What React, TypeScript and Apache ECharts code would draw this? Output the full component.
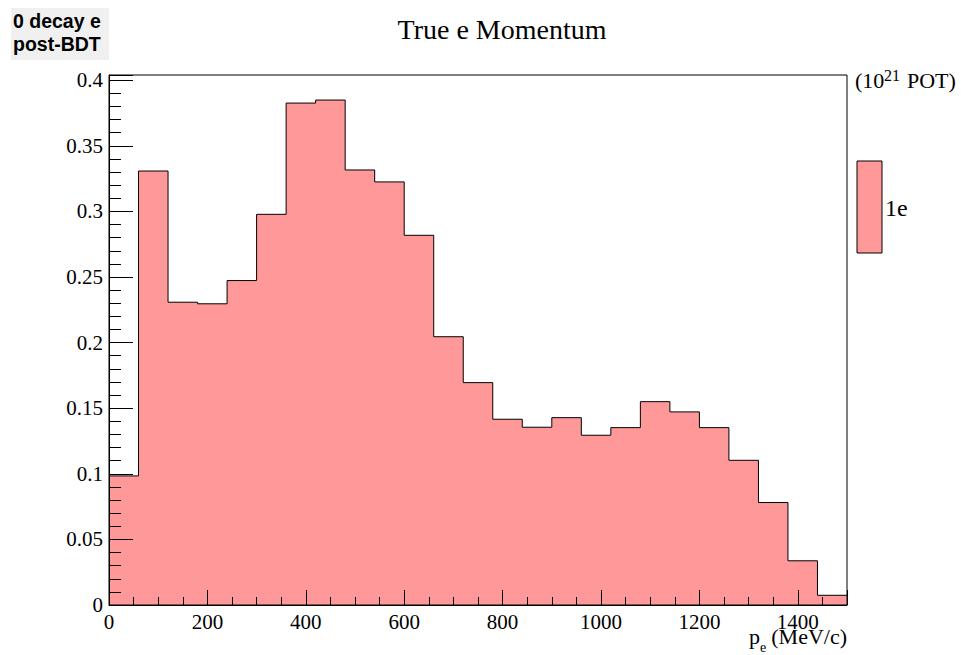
import React, { useEffect, useRef } from "react";
import * as echarts from "echarts";

// Histogram of true electron momentum, 60 MeV/c bins from 0 to 1500
const binLowEdges = [
  0, 60, 120, 180, 240, 300, 360, 420, 480, 540, 600, 660, 720, 780, 840, 900,
  960, 1020, 1080, 1140, 1200, 1260, 1320, 1380, 1440,
];
const binContents = [
  0.0984, 0.3308, 0.2308, 0.2296, 0.2473, 0.2978, 0.3826, 0.3849, 0.3316,
  0.3225, 0.2818, 0.2045, 0.1695, 0.1416, 0.1355, 0.1428, 0.1294, 0.1352,
  0.155, 0.1472, 0.1352, 0.1103, 0.0781, 0.0337, 0.0074,
];
const X_MIN = 0;
const X_MAX = 1500;
const Y_MIN = 0;
const Y_MAX = 0.404;
const xMajorStep = 200;
const xMinorStep = 50;
const yMajorStep = 0.05;
const yMinorStep = 0.01;
const seriesName = "1e";

const FILL = "#ff9999";
const SERIF = "Liberation Serif";
const SANS = "Liberation Sans";

const isMultiple = (v: number, step: number) =>
  Math.abs(v / step - Math.round(v / step)) < 1e-6;

const label = (
  text: string,
  x: number,
  y: number,
  fontSize: number,
  opts: Record<string, unknown> = {}
) => ({
  type: "text",
  x,
  y,
  style: {
    text,
    fontFamily: SERIF,
    fontSize,
    fill: "#000",
    align: "left",
    verticalAlign: "middle",
    ...opts,
  },
});

export default function App() {
  const ref = useRef<HTMLDivElement>(null);

  useEffect(() => {
    if (!ref.current) return;
    const chart = echarts.init(ref.current, null, { renderer: "svg" });

    // step outline: each bin's low edge, plus the closing upper edge
    const stepData: [number, number][] = binLowEdges.map((x, i) => [
      x,
      binContents[i],
    ]);
    stepData.push([X_MAX, binContents[binContents.length - 1]]);

    const tickLine = { color: "#000", width: 1 };
    const tickLabelFont = {
      color: "#000",
      fontFamily: SERIF,
      fontSize: 21,
      fontWeight: "normal",
    };

    chart.setOption({
      animation: false,
      backgroundColor: "#fff",
      textStyle: { fontFamily: SERIF },
      grid: {
        left: 109,
        right: 114,
        top: 75,
        bottom: 50,
        show: true,
        borderColor: "#000",
        borderWidth: 1,
        backgroundColor: "transparent",
        z: 10,
      },
      xAxis: [
        {
          type: "value",
          position: "bottom",
          min: X_MIN,
          max: X_MAX,
          interval: xMajorStep,
          z: 10,
          axisLine: { show: true, lineStyle: { color: "#000", width: 1 } },
          axisTick: { show: true, inside: true, length: 15, lineStyle: tickLine },
          splitLine: { show: false },
          axisLabel: {
            ...tickLabelFont,
            margin: 9.5,
            lineHeight: 14,
            formatter: (v: number) => (isMultiple(v, xMajorStep) ? String(v) : ""),
          },
        },
        {
          type: "value",
          position: "bottom",
          min: X_MIN,
          max: X_MAX,
          interval: xMinorStep,
          z: 10,
          axisLine: { show: false },
          axisTick: { show: true, inside: true, length: 8, lineStyle: tickLine },
          splitLine: { show: false },
          axisLabel: { show: false },
        },
      ],
      yAxis: [
        {
          type: "value",
          position: "left",
          min: Y_MIN,
          max: Y_MAX,
          interval: yMajorStep,
          z: 10,
          axisLine: { show: true, lineStyle: { color: "#000", width: 1 } },
          axisTick: { show: true, inside: true, length: 24, lineStyle: tickLine },
          splitLine: { show: false },
          axisLabel: {
            ...tickLabelFont,
            margin: 6,
            formatter: (v: number) =>
              isMultiple(v, yMajorStep) ? String(parseFloat(v.toFixed(2))) : "",
          },
        },
        {
          type: "value",
          position: "left",
          min: Y_MIN,
          max: Y_MAX,
          interval: yMinorStep,
          z: 10,
          axisLine: { show: false },
          axisTick: { show: true, inside: true, length: 12, lineStyle: tickLine },
          splitLine: { show: false },
          axisLabel: { show: false },
        },
      ],
      series: [
        {
          name: seriesName,
          type: "line",
          xAxisIndex: 0,
          yAxisIndex: 0,
          step: "end",
          symbol: "none",
          data: stepData,
          lineStyle: { color: "#000", width: 1 },
          areaStyle: { color: FILL, opacity: 1, origin: "start" },
          z: 2,
        },
      ],
      graphic: [
        // pad label, top left
        {
          type: "rect",
          shape: { x: 11, y: 8, width: 98, height: 52 },
          style: { fill: "#f0f0f0" },
        },
        label("0 decay e", 13, 21, 19.5, { fontFamily: SANS, fontWeight: "bold" }),
        label("post-BDT", 13, 44, 19.5, { fontFamily: SANS, fontWeight: "bold" }),
        // histogram title
        label("True e Momentum", 502, 29.5, 28, { align: "center" }),
        // y units, top right: (10^21 POT)
        label("(10", 855, 80, 22),
        label("21", 884, 75, 16),
        label("POT)", 907, 80, 22),
        // legend
        {
          type: "rect",
          shape: { x: 857, y: 161, width: 25, height: 92 },
          style: { fill: FILL, stroke: "#000", lineWidth: 1 },
        },
        label(seriesName, 885, 208, 24),
        // x axis title: p_e (MeV/c)
        label("p", 749, 636.5, 22, { lineHeight: 14 }),
        label("e", 760, 647, 14, { lineHeight: 12 }),
        label("(MeV/c)", 847, 636.5, 22, { align: "right", lineHeight: 14 }),
      ],
    });

    return () => chart.dispose();
  }, []);

  return (
    <div
      ref={ref}
      style={{
        position: "fixed",
        left: 0,
        top: 0,
        width: 961,
        height: 655,
        background: "#fff",
      }}
    />
  );
}
